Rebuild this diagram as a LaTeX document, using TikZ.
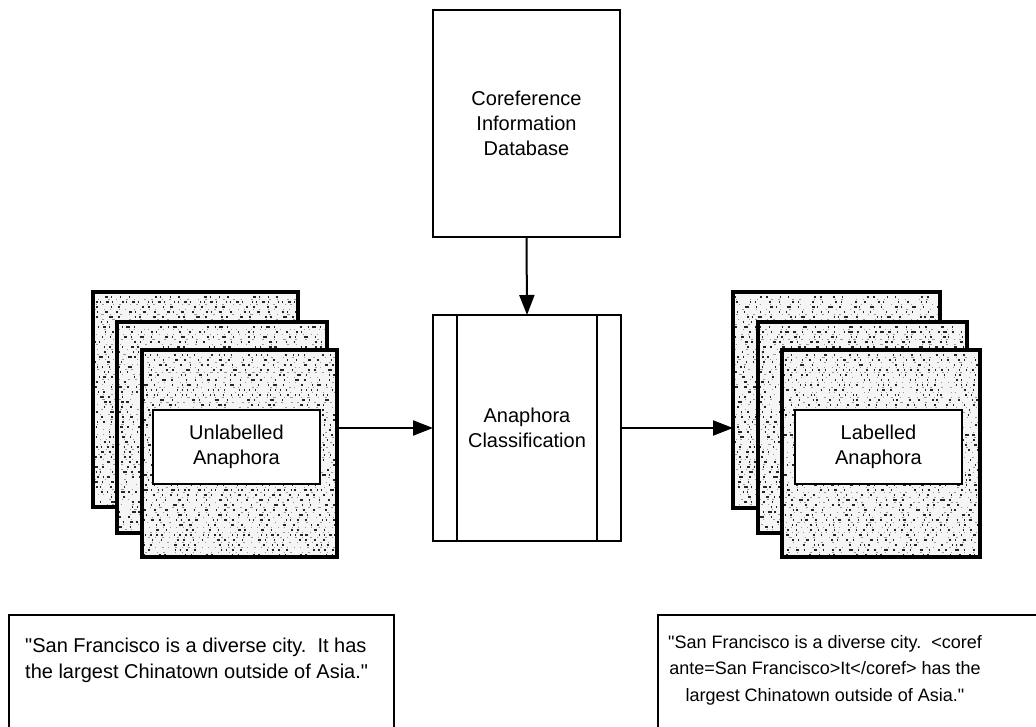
\documentclass[tikz,border=0pt]{standalone}
\usepackage{fontspec}
\setmainfont{Liberation Sans}
\usetikzlibrary{arrows.meta}
\tikzset{
  box/.style={draw=black, line width=2pt, fill=white, rectangle, inner sep=0pt, outer sep=0pt},
  pagebg/.style={rectangle, fill=black!4, inner sep=0pt, outer sep=0pt},
  pageborder/.style={draw=black, line width=4.5pt},
  labelbox/.style={draw=black, line width=2.5pt, fill=white, rectangle, inner sep=0pt, outer sep=0pt,
    font=\fontsize{20}{25}\selectfont, align=center},
  txt/.style={font=\fontsize{20}{25}\selectfont, align=center, inner sep=0pt},
  btxt/.style={font=\frenchspacing\fontsize{20}{26.5}\selectfont, inner sep=0pt},
  rtxt/.style={font=\frenchspacing\fontsize{18}{26.5}\selectfont, inner sep=0pt},
  flow/.style={line width=2pt, -{Triangle[length=20pt,width=15pt]}},
  texture/.style={line width=1.4pt, draw=black!85},
  texturefine/.style={line width=0.8pt, draw=black!40},
}
\newcommand\docpage[5]{% name x1 y1 x2 y2
  \node[pagebg, minimum width=#4-#2, minimum height=#5-#3] (#1) at ({(#2+#4)/2},{(#3+#5)/2}) {};
  \begin{scope}
    \clip (#1.south west) rectangle (#1.north east);
    \pgfmathtruncatemacro\ystart{#3+5}
    \pgfmathtruncatemacro\ynext{#3+10}
    \foreach \yy in {\ystart,\ynext,...,#5} {
      \pgfmathsetmacro\da{0.5+2.5*rnd}
      \pgfmathsetmacro\db{2+7*rnd}
      \pgfmathsetmacro\dc{0.5+1.5*rnd}
      \pgfmathsetmacro\dd{3+12*rnd}
      \pgfmathsetmacro\de{0.5+4*rnd}
      \pgfmathsetmacro\df{2+6*rnd}
      \pgfmathsetmacro\dg{0.5+2*rnd}
      \pgfmathsetmacro\dh{5+20*rnd}
      \pgfmathsetmacro\ph{60*rnd}
      \draw[texture, dash pattern=on \da pt off \db pt on \dc pt off \dd pt on \de pt off \df pt on \dg pt off \dh pt, dash phase=\ph pt] (#2,\yy) -- (#4,\yy);
      \pgfmathsetmacro\ea{0.5+1.5*rnd}
      \pgfmathsetmacro\eb{3+8*rnd}
      \pgfmathsetmacro\ec{0.5+2*rnd}
      \pgfmathsetmacro\ed{4+12*rnd}
      \pgfmathsetmacro\eph{40*rnd}
      \draw[texturefine, dash pattern=on \ea pt off \eb pt on \ec pt off \ed pt, dash phase=\eph pt] (#2,\yy+2.2) -- (#4,\yy+2.2);
    }
  \end{scope}
  \draw[pageborder] (#1.south west) rectangle (#1.north east);
}
\begin{document}
\begin{tikzpicture}[x=1pt, y=-1pt]
\pgfmathsetseed{7}
\useasboundingbox (0,0) rectangle (1036,727);
\clip (0,0) rectangle (1036,727);

% Coreference database
\node[box, minimum width=187, minimum height=227] (db) at (526.5,123.5) {};
\node[txt] (dbt) at (db.center) {Coreference\\Information\\Database};

% Anaphora classification (predefined process)
\node[box, minimum width=188, minimum height=226] (cls) at (527,428) {};
\draw[line width=2pt] (457,315) -- (457,541);
\draw[line width=2pt] (597,315) -- (597,541);
\node[txt] (clst) at (cls.center) {Anaphora\\Classification};

% Left document stack
\docpage{lb}{93}{292}{298}{507}
\docpage{lm}{117}{322}{327}{533}
\docpage{lf}{142}{350}{337}{557}
\node[labelbox, minimum width=167, minimum height=74] (ll) at (236.5,447) {Unlabelled\\Anaphora};

% Right document stack
\docpage{rb}{733}{292}{940}{508}
\docpage{rm}{758}{322}{967}{533}
\docpage{rf}{782}{350}{980}{557}
\node[labelbox, minimum width=167, minimum height=74] (rl) at (878.5,447) {Labelled\\Anaphora};

% Connectors
\draw[flow] (db.south) -- (cls.north);
\draw[flow] (cls.west -| lf.east) -- (cls.west);
\draw[flow] (cls.east) -- (cls.east -| rb.west);

% Example boxes
\node[draw=black, line width=2pt, rectangle, minimum width=385, minimum height=140, inner sep=0pt] (exl) at (201.5,685) {};
\node[btxt, anchor=west, align=left] (exlt) at (25,660.5) {\textquotedbl San Francisco is a diverse city.~ It has\\the largest Chinatown outside of Asia.\textquotedbl};
\node[draw=black, line width=2pt, rectangle, minimum width=400, minimum height=140, inner sep=0pt] (exr) at (858,685) {};
\node[rtxt, align=center] (exrt) at (825,670) {\textquotedbl San Francisco is a diverse city.~ <coref\\ante=San Francisco>It</coref> has the\\largest Chinatown outside of Asia.\textquotedbl};
\end{tikzpicture}
\end{document}
